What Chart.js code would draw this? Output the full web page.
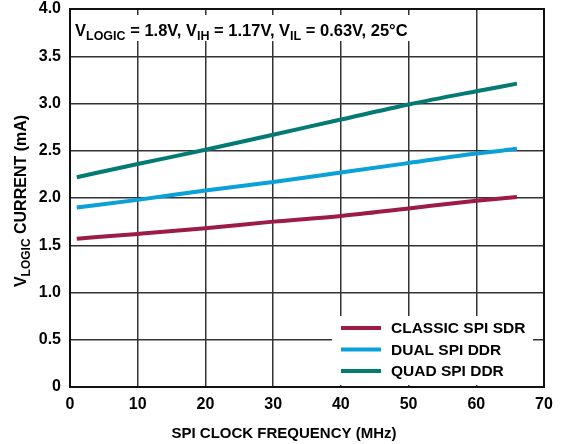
<!DOCTYPE html>
<html>
<head>
<meta charset="utf-8">
<script src="https://cdn.jsdelivr.net/npm/chart.js@4.4.1/dist/chart.umd.min.js"></script>
<style>
    html, body { margin: 0; padding: 0; background: #fff; }
    #wrap { width: 567px; height: 444px; position: relative; }
</style>
</head>
<body>
<div id="wrap"><canvas id="currentChart"></canvas></div>
<script>
// Data
const freqMHz = [1, 10, 20, 30, 40, 50, 60, 66];
const classicSdr = [1.57, 1.62, 1.68, 1.75, 1.81, 1.89, 1.97, 2.01];
const dualDdr = [1.90, 1.98, 2.08, 2.17, 2.27, 2.37, 2.47, 2.52];
const quadDdr = [2.22, 2.36, 2.51, 2.67, 2.83, 2.99, 3.13, 3.21];
const seriesLabels = ['CLASSIC SPI SDR', 'DUAL SPI DDR', 'QUAD SPI DDR'];
const seriesColors = ['#9c1c46', '#0aa0d8', '#037a72'];

const FONT = "'Liberation Sans', Arial, sans-serif";

// draw text runs where some parts are subscripts
function richWidth(ctx, parts, size, subSize) {
    let w = 0;
    parts.forEach(p => {
        ctx.font = 'bold ' + (p[1] ? subSize : size) + 'px ' + FONT;
        w += ctx.measureText(p[0]).width;
    });
    return w;
}
function drawRich(ctx, parts, x, y, size, subSize) {
    ctx.textAlign = 'left';
    ctx.textBaseline = 'alphabetic';
    parts.forEach(p => {
        ctx.font = 'bold ' + (p[1] ? subSize : size) + 'px ' + FONT;
        ctx.fillText(p[0], x, p[1] ? y + 4 : y);
        x += ctx.measureText(p[0]).width;
    });
}

const decorations = {
    id: 'decorations',
    afterDatasetsDraw(chart) {
        const ctx = chart.ctx;
        const area = chart.chartArea;
        ctx.save();
        ctx.fillStyle = '#000';

        // condition note at top of plot
        const note = [['V', false], ['LOGIC', true], [' = 1.8V, V', false], ['IH', true],
            [' = 1.17V, V', false], ['IL', true], [' = 0.63V, 25°C', false]];
        const nw = richWidth(ctx, note, 16.5, 12.5);
        ctx.fillStyle = '#fff';
        ctx.fillRect(area.left + 2, 15, nw + 8, 26);
        ctx.fillStyle = '#000';
        drawRich(ctx, note, area.left + 5, 36, 16.5, 12.5);

        // legend box, bottom right
        const lx = 332, ly = 316;
        ctx.fillStyle = '#fff';
        ctx.fillRect(lx, ly, 201, area.bottom - ly - 2);
        chart.data.datasets.forEach((ds, i) => {
            const y = 328 + i * 21.5;
            ctx.strokeStyle = ds.borderColor;
            ctx.lineWidth = 4;
            ctx.beginPath();
            ctx.moveTo(341, y);
            ctx.lineTo(381, y);
            ctx.stroke();
            ctx.fillStyle = '#000';
            ctx.font = 'bold 15.5px ' + FONT;
            ctx.textBaseline = 'middle';
            ctx.textAlign = 'left';
            ctx.fillText(ds.label, 391, y + 1);
        });

        // plot frame
        ctx.strokeStyle = '#111';
        ctx.lineWidth = 2;
        ctx.strokeRect(area.left, area.top, area.right - area.left, area.bottom - area.top);

        // axis titles
        ctx.fillStyle = '#000';
        ctx.font = 'bold 15px ' + FONT;
        ctx.textAlign = 'center';
        ctx.textBaseline = 'alphabetic';
        ctx.fillText('SPI CLOCK FREQUENCY (MHz)', 284, 438);

        const yTitle = [['V', false], ['LOGIC', true], [' CURRENT (mA)', false]];
        const yw = richWidth(ctx, yTitle, 16, 12);
        ctx.translate(26, 201);
        ctx.rotate(-Math.PI / 2);
        drawRich(ctx, yTitle, -yw / 2, 0, 16, 12);
        ctx.restore();
    }
};

const datasets = [classicSdr, dualDdr, quadDdr].map((vals, i) => ({
    label: seriesLabels[i],
    data: freqMHz.map((f, j) => ({ x: f, y: vals[j] })),
    borderColor: seriesColors[i],
    borderWidth: 4,
    pointRadius: 0,
    cubicInterpolationMode: 'monotone',
    fill: false
}));

new Chart(document.getElementById('currentChart'), {
    type: 'line',
    data: { datasets: datasets },
    options: {
        responsive: true,
        maintainAspectRatio: false,
        animation: false,
        layout: { padding: { top: 9, right: 23, left: 0, bottom: 0 } },
        plugins: {
            legend: { display: false },
            tooltip: { enabled: false }
        },
        scales: {
            x: {
                type: 'linear',
                min: 0,
                max: 70,
                afterFit: scale => {
                    scale.height = 57;
                    scale.paddingLeft = 0;
                    scale.paddingRight = 0;
                },
                ticks: {
                    stepSize: 10,
                    color: '#000',
                    padding: 8,
                    font: { family: FONT, size: 16, weight: 'bold' }
                },
                grid: { color: '#333', lineWidth: 1.5, drawTicks: false },
                border: { display: false }
            },
            y: {
                min: 0,
                max: 4,
                afterFit: scale => {
                    scale.width = 70;
                    scale.paddingTop = 0;
                    scale.paddingBottom = 0;
                },
                ticks: {
                    stepSize: 0.5,
                    color: '#000',
                    padding: 9,
                    font: { family: FONT, size: 16, weight: 'bold' },
                    callback: v => v === 0 ? '0' : v.toFixed(1)
                },
                grid: { color: '#333', lineWidth: 1.5, drawTicks: false },
                border: { display: false }
            }
        }
    },
    plugins: [decorations]
});
</script>
</body>
</html>
